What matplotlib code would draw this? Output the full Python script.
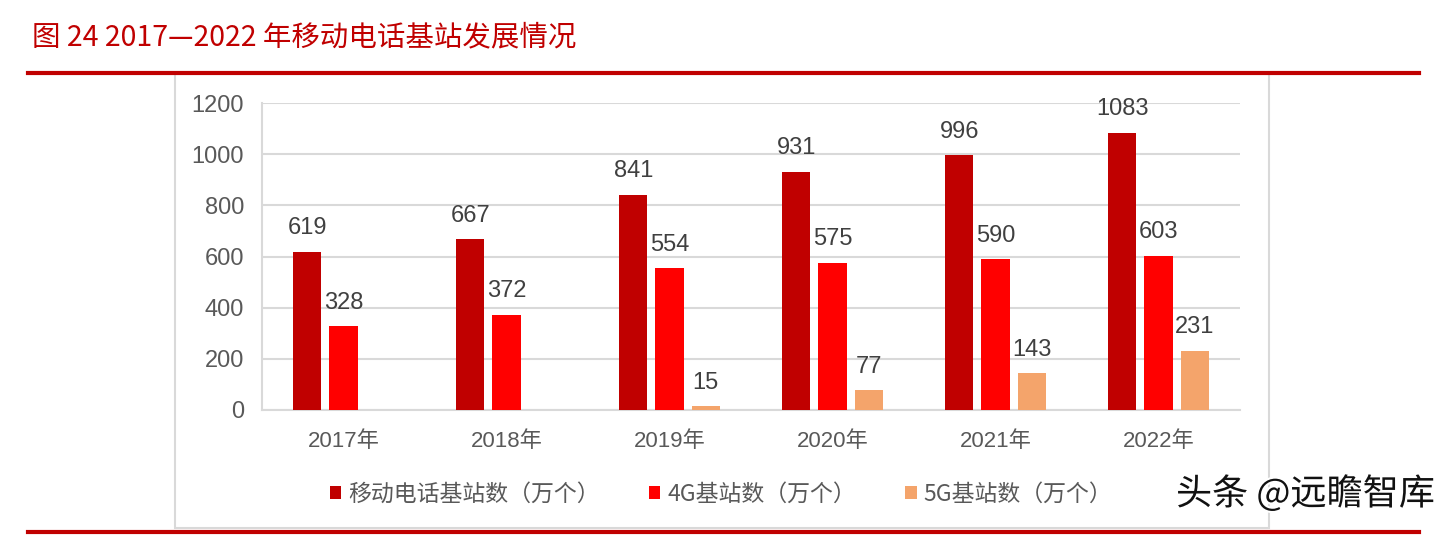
import matplotlib
matplotlib.use("Agg")
import matplotlib.pyplot as plt
import numpy as np
from matplotlib.lines import Line2D
from matplotlib.patches import Patch, Rectangle
import matplotlib.patheffects as pe
from matplotlib import font_manager

years = ["2017年", "2018年", "2019年", "2020年", "2021年", "2022年"]
mobile = [619, 667, 841, 931, 996, 1083]
g4 = [328, 372, 554, 575, 590, 603]
g5 = [None, None, 15, 77, 143, 231]
series_names = ["移动电话基站数（万个）", "4G基站数（万个）", "5G基站数（万个）"]
colors = ["#C00000", "#FF0000", "#F4A46B"]
yticks = [0, 200, 400, 600, 800, 1000, 1200]
title = "图 24 2017—2022 年移动电话基站发展情况"
watermark = "头条 @远瞻智库"

avail = {f.name for f in font_manager.fontManager.ttflist}
narrow = "Liberation Sans Narrow" if "Liberation Sans Narrow" in avail else "Liberation Sans"
num_fam = [narrow, "Noto Sans CJK SC"]
cjk_fam = ["Noto Sans CJK SC", "DejaVu Sans"]

W, H = 1453, 552
fig = plt.figure(figsize=(W / 100, H / 100), dpi=100)

def fx(x):
    return x / W

def fy(y):
    return 1 - y / H

ax = fig.add_axes([fx(262), fy(410), fx(1240) - fx(262), fy(103) - fy(410)])

x = np.arange(len(years))
bw = 0.172
step = 0.221
for i, (vals, c) in enumerate(zip([mobile, g4, g5], colors)):
    xs = [xi + (i - 1) * step for xi, v in zip(x, vals) if v is not None]
    vs = [v for v in vals if v is not None]
    ax.bar(xs, vs, width=bw, color=c, zorder=3)
    for xi, v in zip(xs, vs):
        ax.annotate(str(v), (xi, v), xytext=(0, 9), textcoords="offset points",
                    ha="center", va="bottom", fontsize=17, color="#404040",
                    family=num_fam)

ax.set_xlim(-0.5, len(years) - 0.5)
ax.set_ylim(0, 1200)
ax.set_yticks(yticks)
ax.set_yticklabels([str(t) for t in yticks], family=num_fam, fontsize=17, color="#595959")
ax.set_xticks(x)
ax.set_xticklabels(years, family=num_fam, fontsize=16, color="#595959")
ax.tick_params(axis="both", length=0)
ax.tick_params(axis="y", pad=13)
ax.tick_params(axis="x", pad=15)
ax.grid(axis="y", color="#D9D9D9", linewidth=1.5, zorder=0)
for s in ["top", "right"]:
    ax.spines[s].set_visible(False)
for s in ["left", "bottom"]:
    ax.spines[s].set_color("#D9D9D9")
    ax.spines[s].set_linewidth(1.5)

handles = [Patch(facecolor=c, edgecolor="none") for c in colors]
leg = fig.legend(handles, series_names, loc="center", bbox_to_anchor=(fx(721), fy(494)),
                 ncol=3, frameon=False, handlelength=0.5, handleheight=0.5,
                 handletextpad=0.3, columnspacing=2.15,
                 prop={"family": cjk_fam, "size": 16.5})
for t in leg.get_texts():
    t.set_color("#595959")

# frame lines
fig.add_artist(Rectangle((fx(175), fy(528)), fx(1269) - fx(175), fy(73) - fy(528),
                         transform=fig.transFigure, fill=False, edgecolor="#D9D9D9",
                         linewidth=1.5, zorder=0))
fig.add_artist(Line2D([fx(28), fx(1419)], [fy(73), fy(73)], color="#C00000", linewidth=3))
fig.add_artist(Line2D([fx(28), fx(1419)], [fy(532), fy(532)], color="#C00000", linewidth=3))

fig.text(fx(32), fy(37), title, family=cjk_fam, fontsize=20.5, color="#C00000",
         ha="left", va="center")
fig.text(fx(1435), fy(494), watermark, family=cjk_fam, fontsize=26, color="#111111",
         ha="right", va="center",
         path_effects=[pe.withStroke(linewidth=3, foreground="white")])

fig.savefig("out.png", dpi=100)
